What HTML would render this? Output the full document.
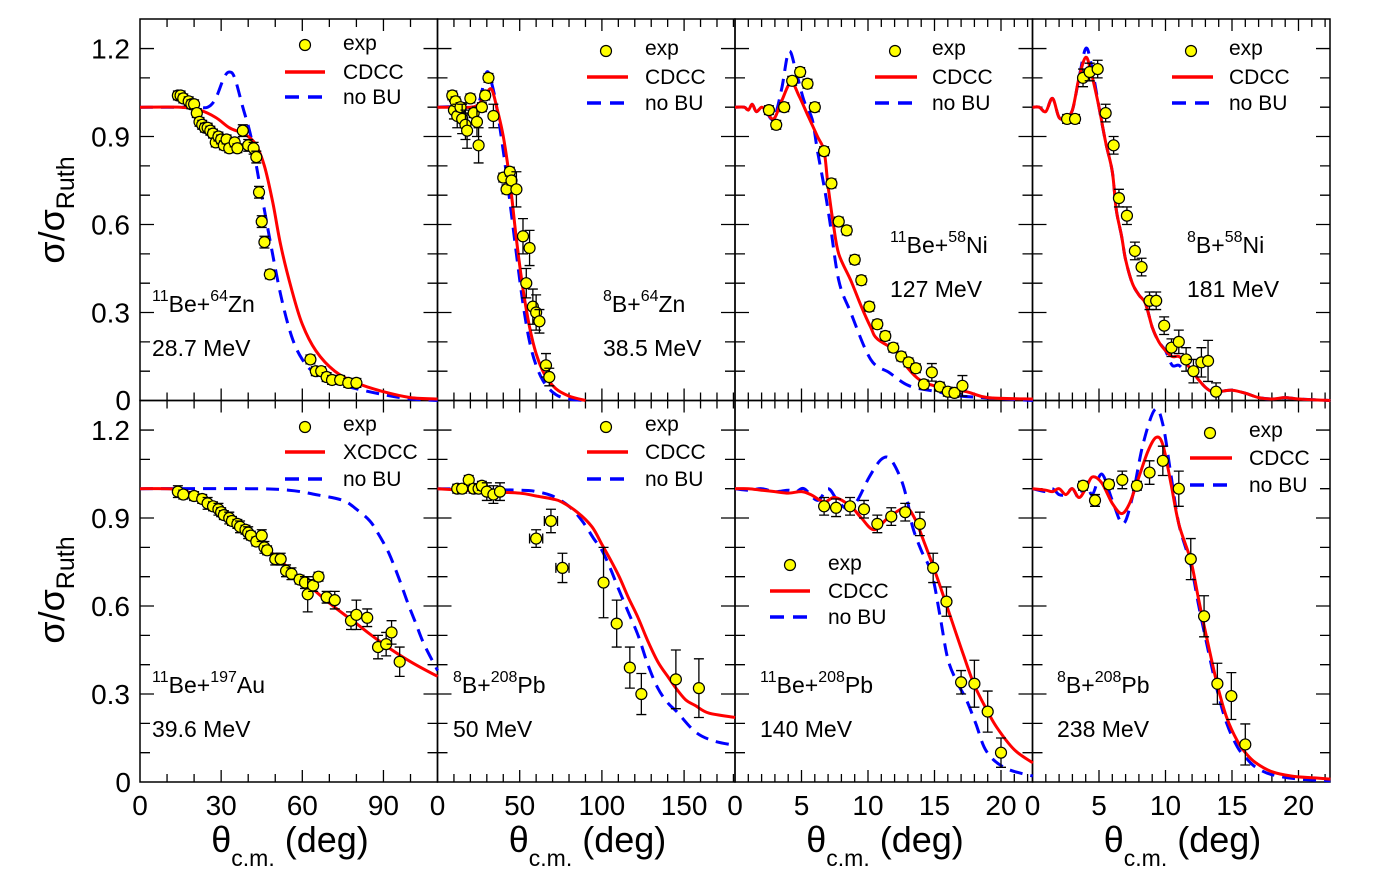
<!DOCTYPE html>
<html><head><meta charset="utf-8"><style>
html,body{margin:0;padding:0;background:#fff;}
svg{display:block;font-family:"Liberation Sans","DejaVu Sans",sans-serif;}
</style></head><body>
<svg id="s" width="1386" height="886" viewBox="0 0 1386 886" xmlns="http://www.w3.org/2000/svg"></svg>
<script>
const S=document.getElementById('s');let h='';
const X0=[140,437.5,735,1032.5],W=297.5,PX=[2.705,1.644,13.3,13.3];
const YB=[400.5,782],K=293.3;
const maj=[30,50,5,5],mn=[10,10,1,1],xmax=[110,181,22.4,22.4];
function mp(c,r,d,v){return [X0[c]+d*PX[c],YB[r]-v*K];}
function line(c,r,pts,col,dash){const P=pts.map(p=>mp(c,r,p[0],p[1]));
let s=`M${P[0][0].toFixed(1)},${P[0][1].toFixed(1)}`;
for(let i=0;i<P.length-1;i++){const p0=P[Math.max(i-1,0)],p1=P[i],p2=P[i+1],p3=P[Math.min(i+2,P.length-1)];
const c1=[p1[0]+(p2[0]-p0[0])/6,p1[1]+(p2[1]-p0[1])/6],c2=[p2[0]-(p3[0]-p1[0])/6,p2[1]-(p3[1]-p1[1])/6];
s+=`C${c1[0].toFixed(1)},${c1[1].toFixed(1)} ${c2[0].toFixed(1)},${c2[1].toFixed(1)} ${p2[0].toFixed(1)},${p2[1].toFixed(1)}`;}
h+=`<path d="${s}" fill="none" stroke="${col}" stroke-width="3" ${dash?'stroke-dasharray="13,8"':''} stroke-linejoin="round"/>`;}
function data(c,r,pts){pts.forEach(p=>{const [x,y]=mp(c,r,p[0],p[1]);const e=(p[2]||0.015)*K;
if(e>4){h+=`<path d="M${x} ${y-e}V${y+e}M${x-5} ${y-e}h10M${x-5} ${y+e}h10" stroke="#000" stroke-width="1.3"/>`;}
if(p[3]){const w=p[3]*PX[c];h+=`<path d="M${x-w} ${y}H${x+w}M${x-w} ${y-5}v10M${x+w} ${y-5}v10" stroke="#000" stroke-width="1.3"/>`;}
h+=`<circle cx="${x}" cy="${y}" r="5.5" fill="#ffff00" stroke="#000" stroke-width="1.2"/>`;});}
for(let r=0;r<2;r++)for(let c=0;c<4;c++){const x=X0[c],yt=YB[r]-381.5,yb=YB[r];
h+=`<rect x="${x}" y="${yt}" width="${W}" height="381.5" fill="none" stroke="#000" stroke-width="1.5"/>`;
for(let d=mn[c];d<xmax[c]-0.01;d+=mn[c]){const xx=x+d*PX[c];const L=(Math.abs(d/maj[c]-Math.round(d/maj[c]))<1e-6)?12:8;
h+=`<path d="M${xx} ${yb}v${-L}M${xx} ${yt}v${L}" stroke="#000" stroke-width="1.3"/>`;}
for(let i=1;i<13;i++){const yy=yb-i*0.1*K;const L=i%3==0?14:10;
h+=`<path d="M${x} ${yy}h${L}M${x+W} ${yy}h${-L}" stroke="#000" stroke-width="1.3"/>`;}}
for(let r=0;r<2;r++){['0','0.3','0.6','0.9','1.2'].forEach((t,i)=>{const y=YB[r]-i*0.3*K+10;
if(i==0)return;h+=`<text x="130" y="${y}" font-size="28" text-anchor="end">${t}</text>`;});}
h+=`<text x="131" y="410" font-size="28" text-anchor="end">0</text>`;
h+=`<text x="131" y="792" font-size="28" text-anchor="end">0</text>`;
const xl=[[0,30,60,90],[0,50,100,150],[0,5,10,15,20],[0,5,10,15,20]];
xl.forEach((a,c)=>a.forEach(d=>{h+=`<text x="${X0[c]+d*PX[c]}" y="815" font-size="28" text-anchor="middle">${d}</text>`;}));
for(let c=0;c<4;c++){const cx=X0[c]+150;h+=`<text x="${cx}" y="852" font-size="36" text-anchor="middle">θ<tspan font-size="23" dy="14">c.m.</tspan><tspan dy="-14"> (deg)</tspan></text>`;}
[210,590].forEach(cy=>{h+=`<text transform="translate(64,${cy}) rotate(-90)" font-size="36" text-anchor="middle">σ/σ<tspan font-size="25" dy="10">Ruth</tspan></text>`;});
function leg(xd,yd,xl1,xl2,xt,ys,lab){h+=`<circle cx="${xd}" cy="${yd}" r="5.5" fill="#ffff00" stroke="#000" stroke-width="1.2"/>`;
h+=`<text x="${xt}" y="${ys[0]+7}" font-size="21">exp</text><text x="${xt}" y="${ys[1]+7}" font-size="21">${lab}</text><text x="${xt}" y="${ys[2]+7}" font-size="21">no BU</text>`;
h+=`<path d="M${xl1} ${ys[1]}H${xl2}" stroke="red" stroke-width="3.5"/><path d="M${xl1} ${ys[2]}H${xl2}" stroke="blue" stroke-width="3.5" stroke-dasharray="14,9"/>`;}
leg(305,45,285,325,343,[43,72,97],'CDCC');
leg(606,51,587,628,645,[48,77,103],'CDCC');
leg(895,51,875,917,932,[48,77,103],'CDCC');
leg(1191,51,1172,1213,1229,[48,77,103],'CDCC');
leg(305,427,285,325,343,[424,452,479],'XCDCC');
leg(606,427,587,628,645,[424,452,479],'CDCC');
leg(790,565,770,810,828,[563,591,617],'CDCC');
leg(1210,433,1190,1232,1249,[430,458,485],'CDCC');
function lab(x,y,a,b,c2,d,e){h+=`<text x="${x}" y="${y}" font-size="23"><tspan font-size="16" dy="-11">${a}</tspan><tspan dy="11">${b}</tspan><tspan font-size="16" dy="-11">${c2}</tspan><tspan dy="11">${d}</tspan></text><text x="${x}" y="${y+44}" font-size="23">${e}</text>`;}
lab(152,312,'11','Be+','64','Zn','28.7 MeV');
lab(603,312,'8','B+','64','Zn','38.5 MeV');
lab(890,253,'11','Be+','58','Ni','127 MeV');
lab(1187,253,'8','B+','58','Ni','181 MeV');
lab(152,693,'11','Be+','197','Au','39.6 MeV');
lab(453,693,'8','B+','208','Pb','50 MeV');
lab(760,693,'11','Be+','208','Pb','140 MeV');
lab(1057,693,'8','B+','208','Pb','238 MeV');
line(0,0,[[0,1],[20,1],[25,1],[28,1.03],[31,1.1],[33,1.12],[35,1.1],[38,1.0],[41,0.9],[44,0.75],[48,0.55],[52,0.36],[56,0.22],[60,0.14],[65,0.09],[72,0.06],[80,0.04],[90,0.02],[100,0.005],[110,0]],'blue',1);
line(0,0,[[0,1],[15,1],[22,0.99],[28,0.965],[33,0.93],[37,0.915],[40,0.9],[43,0.87],[46,0.8],[49,0.68],[52,0.53],[56,0.38],[60,0.26],[65,0.17],[72,0.1],[80,0.06],[90,0.03],[100,0.01],[110,0.005]],'red');
data(0,0,[[14,1.04],[15,1.04],[16,1.03],[18,1.02],[19,1.01],[20,1.01],[21,0.98],[22,0.95],[23,0.94],[24,0.93],[25,0.93],[26,0.92],[27,0.91],[28,0.88],[29,0.9],[30,0.89],[31,0.87],[32,0.89],[33,0.86],[35,0.88],[36,0.86],[38,0.92,0.02],[40,0.87,0.02],[42,0.86,0.02],[43,0.83,0.02],[44,0.71,0.02],[45,0.61,0.02],[46,0.54,0.02],[48,0.43],[63,0.14],[65,0.1],[67,0.1],[69,0.08],[71,0.07],[74,0.07],[77,0.06],[80,0.06]]);
line(1,0,[[0,1],[10,1],[15,0.98],[18,1.0],[22,0.97],[26,1.03],[30,1.12],[33,1.08],[36,1.0],[40,0.85],[44,0.68],[48,0.5],[52,0.33],[56,0.2],[60,0.12],[65,0.06],[72,0.02],[80,0.005],[90,0]],'blue',1);
line(1,0,[[0,1],[10,1],[20,1.0],[25,1.01],[30,1.05],[33,1.06],[36,1.0],[40,0.9],[44,0.75],[48,0.55],[52,0.38],[56,0.25],[60,0.16],[65,0.09],[72,0.04],[80,0.015],[90,0]],'red');
data(1,0,[[9,1.04],[10,0.99,0.03],[11,1.02],[12,0.97,0.04],[14,1.0],[15,0.96,0.05],[17,0.94,0.05],[18,0.92,0.06],[20,1.03],[22,0.98],[24,0.95,0.05],[25,0.87,0.06],[27,1.0],[29,1.04],[31,1.1],[34,0.97,0.04],[40,0.76],[42,0.72],[44,0.78],[45,0.75],[48,0.72,0.06],[52,0.56,0.06],[54,0.4,0.05],[56,0.52,0.06],[58,0.32,0.06],[60,0.3,0.06],[62,0.27,0.04],[66,0.12,0.04],[68,0.08,0.03]]);
line(2,0,[[0,1],[0.7,1.0],[1,0.99],[1.3,1.01],[1.6,0.985],[2,1.0],[2.3,0.99],[2.9,0.96],[3.5,1.06],[4.05,1.19],[4.6,1.12],[5.2,1.02],[5.8,0.96],[6.2,0.85],[6.7,0.73],[7.1,0.62],[7.8,0.41],[8.7,0.3],[10.2,0.14],[11.6,0.095],[13.1,0.05],[15.2,0.03],[17,0.015],[22.4,0]],'blue',1);
line(2,0,[[0,1],[0.7,1.0],[1,0.99],[1.3,1.01],[1.6,0.985],[2,1.0],[2.3,0.99],[2.9,0.96],[3.5,1.02],[4.2,1.085],[4.8,1.04],[5.5,0.97],[6.2,0.9],[6.7,0.85],[7,0.73],[7.4,0.6],[7.8,0.5],[8.7,0.41],[9.5,0.32],[10.2,0.25],[10.7,0.21],[12.2,0.165],[13,0.11],[13.9,0.07],[15,0.05],[17.4,0.03],[19,0.01],[22.4,0.005]],'red');
data(2,0,[[2.55,0.99],[3.1,0.94],[3.7,1.0],[4.3,1.09],[4.9,1.12],[5.45,1.08],[6.0,1.0],[6.7,0.85],[7.25,0.74],[7.8,0.61],[8.4,0.58],[9.0,0.48],[9.5,0.41],[10.1,0.32],[10.7,0.26],[11.3,0.22],[11.9,0.18],[12.5,0.15],[13.05,0.13],[13.6,0.11],[14.2,0.055],[14.8,0.096,0.03],[15.4,0.047],[16,0.03],[16.5,0.026],[17.1,0.05,0.035]]);
const p4=[[0,1],[0.5,1.0],[1,0.985],[1.5,1.03],[2,0.965],[2.5,0.965],[3,0.99],[3.5,1.1],[4,1.17],[4.4,1.12],[5,1.0],[5.5,0.88],[6,0.78],[6.3,0.65],[6.7,0.56],[7,0.48],[7.5,0.4],[8,0.36],[8.5,0.33],[9,0.25],[9.5,0.2],[10,0.17],[10.5,0.15],[11,0.15],[11.5,0.13],[12,0.1],[12.5,0.07],[13,0.045],[13.5,0.03],[14,0.03],[15,0.035],[16,0.025],[17,0.01],[18,0.005],[19,0.01],[20,0.005],[22.4,0]];
line(3,0,p4.map(p=>[p[0],p[0]>3.5&&p[0]<4.5?p[1]+0.03:(p[0]>10&&p[0]<12?p[1]-0.03:p[1])]),'blue',1);
line(3,0,p4,'red');
data(3,0,[[2.6,0.96],[3.2,0.96],[3.8,1.1,0.03],[4.3,1.12,0.03],[4.9,1.13,0.03],[5.5,0.98,0.03],[6.1,0.87,0.03],[6.5,0.69,0.03],[7.1,0.63,0.03],[7.7,0.51,0.03],[8.2,0.455,0.03],[8.8,0.34,0.03],[9.3,0.34,0.03],[9.9,0.255,0.03],[10.45,0.18,0.03],[11.0,0.2,0.04],[11.55,0.14,0.04],[12.1,0.1,0.04],[12.7,0.13,0.05],[13.2,0.135,0.07],[13.8,0.03,0.03]]);
line(0,1,[[0,1],[40,1.0],[55,0.995],[65,0.98],[75,0.96],[80,0.93],[85,0.89],[88.5,0.84],[92,0.78],[95.5,0.7],[99,0.61],[102,0.54],[105,0.47],[110,0.38]],'blue',1);
line(0,1,[[0,1],[10,1],[15,0.995],[20,0.98],[30,0.93],[40,0.86],[50,0.77],[60,0.69],[70,0.61],[80,0.54],[90,0.47],[100,0.41],[110,0.36]],'red');
data(0,1,[[14,0.99,0.02],[16,0.98],[20,0.975],[23,0.965],[25,0.95,0.02],[27,0.94],[29,0.93,0.02],[30,0.92],[31,0.91],[33,0.9,0.02],[34,0.89],[36,0.88],[37,0.87,0.02],[39,0.86],[40,0.85,0.02],[41,0.84],[43,0.82],[45,0.84,0.02],[46,0.8,0.02],[47,0.79],[50,0.76,0.02],[52,0.76,0.02],[54,0.72,0.02],[56,0.71,0.02],[59,0.69],[61,0.68,0.02],[62,0.64,0.06],[64,0.67,0.02],[66,0.7],[69,0.63,0.02],[72,0.62,0.03],[78,0.55,0.03],[80,0.57,0.05],[84,0.56,0.03],[88,0.46,0.04],[91,0.47,0.04],[93,0.51,0.04],[96,0.41,0.05]]);
line(1,1,[[0,1],[50,0.995],[60,0.99],[70,0.975],[80,0.94],[88,0.89],[95,0.83],[100,0.79],[105,0.73],[110,0.66],[116,0.58],[122,0.5],[128,0.4],[134,0.32],[140,0.27],[145.5,0.24],[157,0.17],[168,0.14],[181,0.125]],'blue',1);
line(1,1,[[0,1],[30,0.99],[50,0.985],[60,0.975],[70,0.965],[75.5,0.955],[85,0.92],[94,0.87],[100,0.81],[105,0.76],[110.5,0.7],[116,0.63],[122,0.56],[128,0.48],[134,0.41],[140,0.36],[145,0.32],[151,0.28],[157,0.26],[165,0.235],[181,0.22]],'red');
data(1,1,[[12,1.0],[15,1.0],[19,1.03],[22,1.0],[25,1.0],[27,1.01],[30,0.99,0.03],[34,0.98,0.03],[38,0.99,0.03],[60,0.83,0.03,4],[69,0.89,0.04,4],[76,0.73,0.05,4],[101,0.68,0.12],[109,0.54,0.08],[117,0.39,0.07],[124,0.3,0.07],[145,0.35,0.1],[159,0.32,0.1]]);
line(2,1,[[0,1],[1,0.995],[2,1.0],[3,0.99],[4,0.995],[4.6,0.99],[5.2,1.0],[6.2,0.96],[7,1.0],[7.7,0.96],[8.5,0.93],[9.2,0.96],[10.1,1.04],[11,1.1],[11.7,1.1],[12.5,1.03],[13,0.95],[13.35,0.87],[14,0.79],[14.8,0.71],[15.4,0.57],[16,0.42],[16.7,0.34],[17.4,0.28],[18.1,0.2],[18.9,0.105],[20.3,0.048],[22.4,0.02]],'blue',1);
line(2,1,[[0,1],[1,1],[2,0.995],[3,0.99],[4,0.985],[5,0.99],[5.7,0.98],[6.7,0.955],[7.5,0.97],[8.7,0.94],[9.5,0.9],[10.45,0.86],[11.5,0.9],[12.8,0.935],[13.5,0.9],[14.2,0.82],[15.1,0.71],[16.3,0.55],[17.2,0.43],[18,0.33],[19,0.24],[19.7,0.185],[21,0.11],[22.4,0.065]],'red');
data(2,1,[[6.7,0.94,0.03],[7.6,0.935,0.03],[8.65,0.94,0.03],[9.7,0.93,0.03],[10.7,0.88,0.03],[11.75,0.905,0.03],[12.8,0.92,0.03],[13.9,0.88,0.04],[14.9,0.73,0.05],[15.9,0.615,0.05],[17,0.34,0.04],[18,0.335,0.08],[19,0.24,0.07],[20,0.1,0.05]]);
line(3,1,[[0,1],[1,0.99],[1.5,1.0],[2,0.98],[2.5,0.98],[3,1.0],[3.5,0.97],[4,1.02],[4.5,0.98],[5.2,1.05],[6,0.96],[6.8,0.88],[7.5,0.97],[8.3,1.15],[9.2,1.27],[9.8,1.22],[10.4,1.05],[11,0.88],[11.9,0.74],[12.5,0.6],[13.2,0.45],[13.9,0.31],[14.6,0.2],[15.4,0.12],[16.1,0.08],[16.8,0.05],[18,0.025],[20,0.01],[22.4,0.004]],'blue',1);
line(3,1,[[0,1],[1,0.995],[1.5,0.99],[2,1.0],[2.5,0.98],[3,1.0],[3.5,0.97],[4,1.0],[4.5,1.04],[5.2,1.02],[6,0.95],[6.7,0.915],[7.3,0.95],[8,1.04],[8.7,1.13],[9.3,1.175],[9.8,1.15],[10.4,1.02],[11,0.88],[11.9,0.755],[12.5,0.62],[13.2,0.47],[13.9,0.33],[14.6,0.22],[15.4,0.14],[16.1,0.095],[16.8,0.065],[18,0.035],[19.5,0.02],[21.2,0.014],[22.4,0.01]],'red');
data(3,1,[[3.8,1.01],[4.7,0.96,0.02],[5.75,1.015],[6.75,1.03,0.03],[7.85,1.01],[8.8,1.055,0.04],[9.8,1.095,0.05],[11,1.0,0.06],[11.9,0.76,0.07],[12.9,0.565,0.07],[13.9,0.335,0.07],[14.95,0.293,0.08],[16,0.128,0.07]]);
S.innerHTML=h;
</script>
</body></html>
